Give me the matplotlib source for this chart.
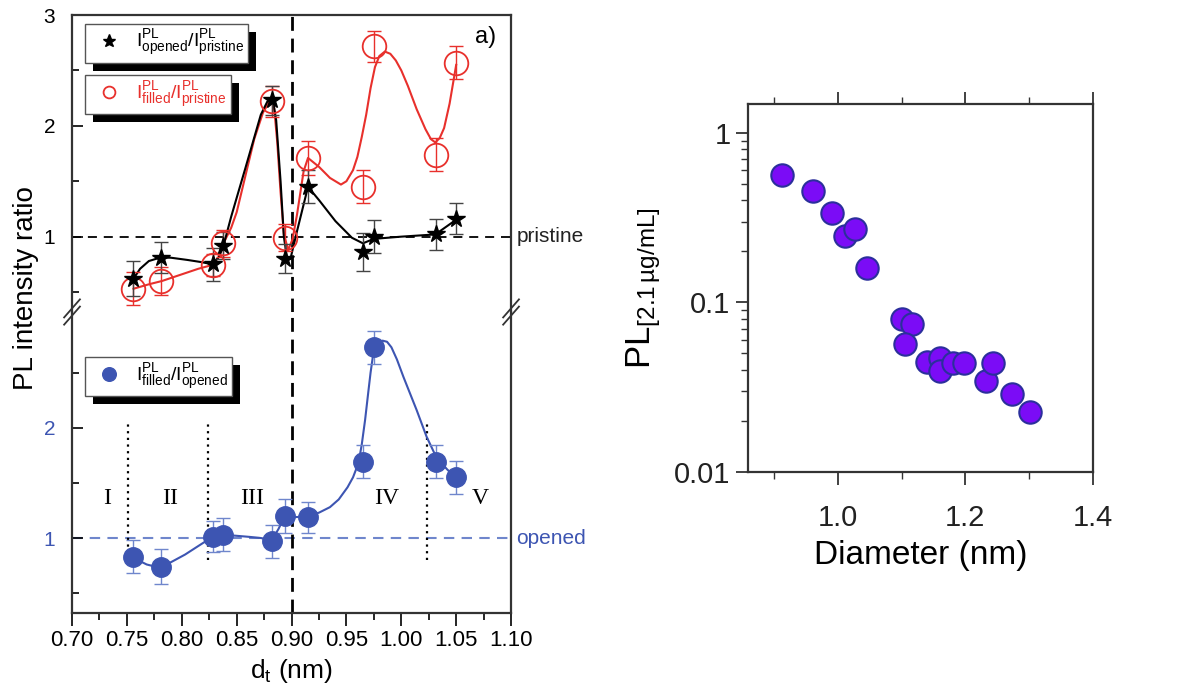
import matplotlib
matplotlib.use('Agg')
import matplotlib.pyplot as plt
from matplotlib.patches import Rectangle
from matplotlib.transforms import IdentityTransform
from matplotlib.ticker import FixedLocator, NullFormatter, LogLocator

plt.rcParams['font.family'] = 'Liberation Sans'
plt.rcParams['mathtext.fontset'] = 'custom'
plt.rcParams['mathtext.rm'] = 'Liberation Sans'
plt.rcParams['mathtext.it'] = 'Liberation Sans:italic'
plt.rcParams['mathtext.bf'] = 'Liberation Sans:bold'

# --- pannello a): rapporti di intensita PL ---
d_t = [0.756, 0.781, 0.828, 0.838, 0.882, 0.894, 0.915, 0.965, 0.975, 1.032, 1.050]
opened_pristine = [0.62, 0.81, 0.75, 0.92, 2.23, 0.80, 1.45, 0.86, 1.00, 1.02, 1.16]
opened_pristine_err = [0.16, 0.14, 0.15, 0.12, 0.13, 0.13, 0.15, 0.17, 0.15, 0.14, 0.14]
filled_pristine = [0.53, 0.60, 0.745, 0.94, 2.22, 0.99, 1.71, 1.45, 2.72, 1.74, 2.57]
filled_pristine_err = [0.15, 0.13, 0.10, 0.12, 0.14, 0.12, 0.15, 0.15, 0.14, 0.15, 0.15]
filled_opened = [0.83, 0.74, 1.01, 1.03, 0.97, 1.20, 1.19, 1.69, 2.73, 1.69, 1.55]
filled_opened_err = [0.15, 0.16, 0.14, 0.15, 0.15, 0.15, 0.14, 0.15, 0.15, 0.15, 0.15]

# curve guida
fit_open_x = [0.756, 0.762, 0.770, 0.780, 0.790, 0.805, 0.818, 0.828, 0.834, 0.838,
              0.845, 0.850, 0.858, 0.865, 0.872, 0.878, 0.883, 0.886, 0.890, 0.893,
              0.896, 0.899, 0.905, 0.915, 0.925, 0.940, 0.955, 0.965, 0.975, 1.000,
              1.031, 1.051]
fit_open_y = [0.62, 0.71, 0.78, 0.81, 0.81, 0.79, 0.77, 0.75, 0.82, 0.92,
              1.18, 1.35, 1.62, 1.86, 2.10, 2.22, 2.23, 2.05, 1.50, 1.00,
              0.80, 0.80, 1.05, 1.45, 1.33, 1.14, 0.99, 0.94, 0.98, 1.00,
              1.02, 1.16]
fit_fill_x = [0.756, 0.770, 0.782, 0.800, 0.815, 0.828, 0.834, 0.838, 0.845, 0.850,
              0.858, 0.866, 0.874, 0.880, 0.884, 0.887, 0.890, 0.893, 0.897, 0.901,
              0.905, 0.911, 0.915, 0.925, 0.935, 0.945, 0.950, 0.956, 0.960, 0.964,
              0.968, 0.972, 0.976, 0.980, 0.985, 0.990, 0.995, 1.000, 1.006, 1.014,
              1.022, 1.027, 1.031, 1.035, 1.039, 1.044, 1.050]
fit_fill_y = [0.53, 0.57, 0.60, 0.66, 0.71, 0.745, 0.82, 0.94, 1.08, 1.22,
              1.55, 1.88, 2.12, 2.22, 2.18, 1.85, 1.40, 1.02, 0.88, 0.98,
              1.20, 1.59, 1.71, 1.63, 1.53, 1.47, 1.50, 1.60, 1.72, 1.90,
              2.10, 2.34, 2.53, 2.63, 2.67, 2.65, 2.59, 2.50, 2.36, 2.15,
              1.97, 1.88, 1.85, 1.89, 1.98, 2.20, 2.55]
fit_ratio_x = [0.756, 0.762, 0.768, 0.774, 0.780, 0.790, 0.803, 0.817, 0.828, 0.838,
               0.850, 0.862, 0.872, 0.882, 0.888, 0.894, 0.905, 0.915, 0.925, 0.935,
               0.943, 0.951, 0.956, 0.961, 0.964, 0.967, 0.970, 0.972, 0.974, 0.976,
               0.979, 0.983, 0.987, 0.991, 0.996, 1.002, 1.008, 1.014, 1.023, 1.032,
               1.042, 1.050]
fit_ratio_y = [0.83, 0.79, 0.76, 0.745, 0.74, 0.78, 0.85, 0.94, 1.01, 1.03,
               1.02, 1.01, 1.00, 0.98, 1.08, 1.20, 1.19, 1.20, 1.23, 1.28,
               1.35, 1.46, 1.55, 1.68, 1.85, 2.07, 2.33, 2.50, 2.64, 2.73,
               2.78, 2.79, 2.78, 2.73, 2.62, 2.46, 2.31, 2.16, 1.92, 1.73,
               1.62, 1.55]

region_bounds = [0.751, 0.824, 1.0235]
region_names = ['I', 'II', 'III', 'IV', 'V']
region_pos = [0.732, 0.789, 0.864, 0.987, 1.072]
x_ticks = [0.70, 0.75, 0.80, 0.85, 0.90, 0.95, 1.00, 1.05, 1.10]
x_tick_labels = ['0.70', '0.75', '0.80', '0.85', '0.90', '0.95', '1.00', '1.05', '1.10']

# --- pannello destro: PL vs diametro ---
diametro = [0.912, 0.961, 0.990, 1.011, 1.027, 1.045, 1.100, 1.116, 1.105, 1.139,
            1.160, 1.160, 1.181, 1.197, 1.233, 1.244, 1.273, 1.301]
pl_21 = [0.566, 0.452, 0.337, 0.248, 0.271, 0.160, 0.0794, 0.0743, 0.0566, 0.0446,
         0.0473, 0.0394, 0.0442, 0.0442, 0.0344, 0.0442, 0.0288, 0.0225]

ROSSO = '#e8302c'
BLU = '#3d55b2'
BLU_CHIARO = '#6f86cc'
GRIGIO = '#333333'

fig = plt.figure(figsize=(11.77, 6.98), dpi=100)
ax1 = fig.add_axes([0.0612, 0.553, 0.373, 0.4255])
ax2 = fig.add_axes([0.0612, 0.1218, 0.373, 0.4312], sharex=ax1)

legenda = dict(loc='upper left', borderaxespad=0, fancybox=False, edgecolor='#555555',
               framealpha=1, fontsize=14, handlelength=2.0, handletextpad=0.4,
               borderpad=0.22)

# pannello superiore
ax1.errorbar(d_t, filled_pristine, yerr=filled_pristine_err, fmt='none', ecolor=ROSSO,
             elinewidth=1, capsize=5, capthick=1, zorder=3)
ax1.plot(fit_fill_x, fit_fill_y, color=ROSSO, lw=1.5, zorder=2)
l_fill, = ax1.plot(d_t, filled_pristine, 'o', ms=17, mfc='none', mec=ROSSO, mew=1.3, zorder=4)
ax1.errorbar(d_t, opened_pristine, yerr=opened_pristine_err, fmt='none', ecolor='#444444',
             elinewidth=1, capsize=5, capthick=1, zorder=3)
ax1.plot(fit_open_x, fit_open_y, color='black', lw=1.5, zorder=2)
l_open, = ax1.plot(d_t, opened_pristine, '*', ms=13, color='black', zorder=5)
ax1.axhline(1, color='black', lw=1.3, dashes=(5, 3.8), zorder=1)
ax1.axvline(0.90, color='black', lw=2, dashes=(5, 2.8), zorder=1)
ax1.set_ylim(0.32, 3.0)
ax1.set_xlim(0.70, 1.10)
ax1.yaxis.set_major_locator(FixedLocator([1, 2, 3]))
ax1.yaxis.set_minor_locator(FixedLocator([0.5, 1.5, 2.5]))
ax1.tick_params(axis='y', which='major', direction='in', length=8, width=1.2, labelsize=15, pad=12)
ax1.tick_params(axis='y', which='minor', direction='in', length=5, width=1.2)
ax1.tick_params(axis='x', which='both', bottom=False, top=False, labelbottom=False)
ax1.spines['bottom'].set_visible(False)
ax1.text(1.012, 1, 'pristine', transform=ax1.get_yaxis_transform(), fontsize=15,
         va='center', ha='left', color='#222222')
ax1.text(0.965, 0.925, 'a)', transform=ax1.transAxes, fontsize=17, ha='right', va='center')

leg1 = ax1.legend(handles=[l_open],
                  labels=[r'$\mathregular{I^{PL}_{opened}/I^{PL}_{pristine}}$'],
                  bbox_to_anchor=(0.03, 0.97), markerscale=0.75, **legenda)
leg1.get_frame().set_linewidth(1.0)
ax1.add_artist(leg1)
leg2 = ax1.legend(handles=[l_fill],
                  labels=[r'$\mathregular{I^{PL}_{filled}/I^{PL}_{pristine}}$'],
                  bbox_to_anchor=(0.03, 0.797), markerscale=0.5, labelcolor=ROSSO,
                  **legenda)
leg2.get_frame().set_linewidth(1.0)

# pannello inferiore
ax2.errorbar(d_t, filled_opened, yerr=filled_opened_err, fmt='none', ecolor=BLU_CHIARO,
             elinewidth=1, capsize=5, capthick=1, zorder=3)
ax2.plot(fit_ratio_x, fit_ratio_y, color=BLU, lw=1.5, zorder=2)
l_ratio, = ax2.plot(d_t, filled_opened, 'o', ms=14, color=BLU, zorder=4)
ax2.axhline(1, color=BLU_CHIARO, lw=1.5, dashes=(5, 3.5), zorder=1)
ax2.axvline(0.90, color='black', lw=2, dashes=(5, 2.8), zorder=1)
for xb in region_bounds:
    ax2.plot([xb, xb], [0.80, 2.03], color='black', lw=1.6, ls=(0, (1, 2)), zorder=1)
for nome, xp in zip(region_names, region_pos):
    ax2.text(xp, 1.36, nome, fontsize=17, family='Liberation Serif', ha='center', va='center')
ax2.set_ylim(0.32, 3.05)
ax2.yaxis.set_major_locator(FixedLocator([1, 2]))
ax2.yaxis.set_minor_locator(FixedLocator([0.5, 1.5, 2.5]))
ax2.tick_params(axis='y', which='major', direction='in', length=8, width=1.2, labelsize=15,
                labelcolor=BLU, pad=12)
ax2.tick_params(axis='y', which='minor', direction='in', length=5, width=1.2)
ax2.set_xticks(x_ticks, x_tick_labels)
ax2.xaxis.set_minor_locator(FixedLocator([0.725, 0.775, 0.825, 0.875, 0.925, 0.975, 1.025, 1.075]))
ax2.tick_params(axis='x', which='major', direction='out', length=9, width=1.2, labelsize=16)
ax2.tick_params(axis='x', which='minor', direction='out', length=5, width=1.2)
ax2.spines['top'].set_visible(False)
ax2.set_xlabel(r'$\mathregular{d_t}$ (nm)', fontsize=19, labelpad=4)
ax2.text(1.012, 1, 'opened', transform=ax2.get_yaxis_transform(), fontsize=15,
         va='center', ha='left', color=BLU)

leg3 = ax2.legend(handles=[l_ratio],
                  labels=[r'$\mathregular{I^{PL}_{filled}/I^{PL}_{opened}}$'],
                  bbox_to_anchor=(0.03, 0.85), markerscale=0.7, **legenda)
leg3.get_frame().set_linewidth(1.0)

for a in (ax1, ax2):
    for s in a.spines.values():
        s.set_linewidth(1.6)
        s.set_color(GRIGIO)

# segni di interruzione dell'asse
for xs in (0.0, 1.0):
    for dy in (-0.012, 0.012):
        ax2.plot([xs - 0.018, xs + 0.018], [1.0 + dy - 0.03, 1.0 + dy + 0.03],
                 transform=ax2.transAxes, color=GRIGIO, lw=1.3, clip_on=False, zorder=6)

fig.text(0.022, 1 - 288 / 698, 'PL intensity ratio', rotation=90, fontsize=20,
         va='center', ha='center')

# pannello destro
ax3 = fig.add_axes([0.6355, 0.3238, 0.2931, 0.5272])
ax3.scatter(diametro, pl_21, s=260, c='#7b0cf6', edgecolors='#2b2f9c', linewidths=1.5, zorder=3)
ax3.set_yscale('log')
ax3.set_ylim(0.01, 1.48)
ax3.set_xlim(0.859, 1.40)
ax3.set_yticks([0.01, 0.1, 1], ['0.01', '0.1', '1'])
ax3.yaxis.set_minor_locator(LogLocator(base=10, subs=[2, 3, 4, 5, 6, 7, 8, 9]))
ax3.yaxis.set_minor_formatter(NullFormatter())
ax3.set_xticks([1.0, 1.2, 1.4], ['1.0', '1.2', '1.4'])
ax3.xaxis.set_minor_locator(FixedLocator([0.9, 1.1, 1.3]))
ax3.tick_params(axis='both', which='major', direction='out', length=9, width=1.3,
                labelsize=21, color=GRIGIO, labelcolor='#222222')
ax3.tick_params(axis='both', which='minor', direction='out', length=5, width=1.0,
                color=GRIGIO)
ax3.tick_params(axis='x', which='both', top=True)
ax3.tick_params(axis='x', which='major', pad=14)
for s in ax3.spines.values():
    s.set_linewidth(1.6)
    s.set_color(GRIGIO)
ax3.set_xlabel('Diameter (nm)', fontsize=24, labelpad=6)
ax3.set_ylabel(r'$\mathregular{PL_{[2.1\,µg/mL]}}$', fontsize=25, labelpad=8)

# ombre nere dietro le legende
fig.canvas.draw()
for a, leg in ((ax1, leg1), (ax1, leg2), (ax2, leg3)):
    bb = leg.get_window_extent()
    a.add_patch(Rectangle((bb.x0 + 8, bb.y0 - 8), bb.width, bb.height,
                          transform=IdentityTransform(), facecolor='black',
                          edgecolor='none', zorder=4.9, clip_on=False))

fig.savefig('out.png', dpi=100)
